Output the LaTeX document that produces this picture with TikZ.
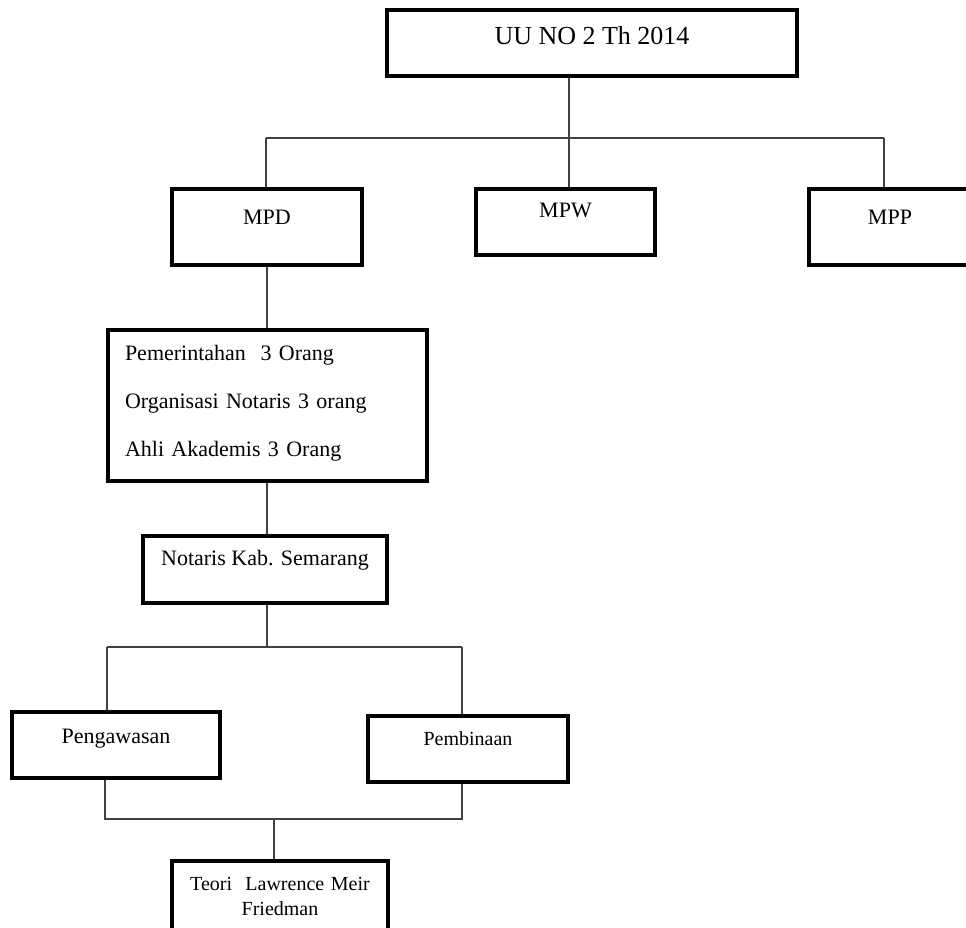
\documentclass[tikz,border=0pt]{standalone}
\usepackage{fontspec}
\setmainfont{Liberation Serif}
\begin{document}
\begin{tikzpicture}[x=1pt,y=-1pt,kotak/.style={draw, line width=4pt, inner sep=0pt, font=\fontsize{22}{26}\selectfont},garis/.style={line width=1.6pt, draw=black!75}]
\useasboundingbox (0,0) rectangle (966,928);
\node [kotak, minimum width=410pt, text height=34.5pt, text depth=31.5pt, font=\fontsize{26}{30}\selectfont] (uu) at (592,43) {UU NO 2 Th 2014};
\node [kotak, minimum width=190pt, text height=35pt, text depth=41pt] (mpd) at (267,227) {MPD};
\node [kotak, minimum width=179pt, text height=29pt, text depth=37pt] (mpw) at (565.5,222) {MPW};
\node [kotak, minimum width=162pt, text height=35pt, text depth=41pt] (mpp) at (890,227) {MPP};
\node [kotak, text width=285pt, inner xsep=17pt, align=left, text height=30pt, text depth=121pt, font=\fontsize{22}{48}\selectfont] (pem) at (267.5,405.5) {Pemerintahan\ \ 3 Orang\\Organisasi Notaris 3 orang\\Ahli Akademis 3 Orang};
\node [kotak, minimum width=244pt, text height=29pt, text depth=38pt] (not) at (265,569.5) {Notaris Kab. Semarang};
\node [kotak, minimum width=208pt, text height=31pt, text depth=35pt] (peng) at (116,745) {Pengawasan};
\node [kotak, minimum width=200pt, text height=29pt, text depth=37pt, font=\fontsize{20}{24}\selectfont] (pemb) at (468,749) {Pembinaan};
\node [kotak, text width=216pt, align=center, text height=29pt, text depth=55pt, font=\fontsize{20}{25}\selectfont] (teori) at (280,903) {Teori\ \ Lawrence Meir\\Friedman};
\coordinate (j1) at (569,138);
\coordinate (a1) at (266,138);
\coordinate (a3) at (884,138);
\coordinate (b1) at (107,647);
\coordinate (b2) at (462,647);
\coordinate (c1) at (105,819);
\coordinate (c2) at (462,819);
\coordinate (c3) at (274,819);
\draw [garis] (uu.south -| j1) -- (j1);
\draw [garis] (a1) -- (a3);
\draw [garis] (a1) -- (a1 |- mpd.north);
\draw [garis] (j1) -- (j1 |- mpw.north);
\draw [garis] (a3) -- (a3 |- mpp.north);
\draw [garis] (mpd.south) -- (mpd.south |- pem.north);
\draw [garis] (pem.south -| mpd) -- (not.north -| mpd);
\draw [garis] (not.south -| mpd) -- (b1 -| mpd);
\draw [garis] (b1) -- (b2);
\draw [garis] (b1) -- (b1 |- peng.north);
\draw [garis] (b2) -- (b2 |- pemb.north);
\draw [garis] (c1 |- peng.south) -- (c1) -- (c2) -- (c2 |- pemb.south);
\draw [garis] (c3) -- (c3 |- teori.north);
\end{tikzpicture}
\end{document}
